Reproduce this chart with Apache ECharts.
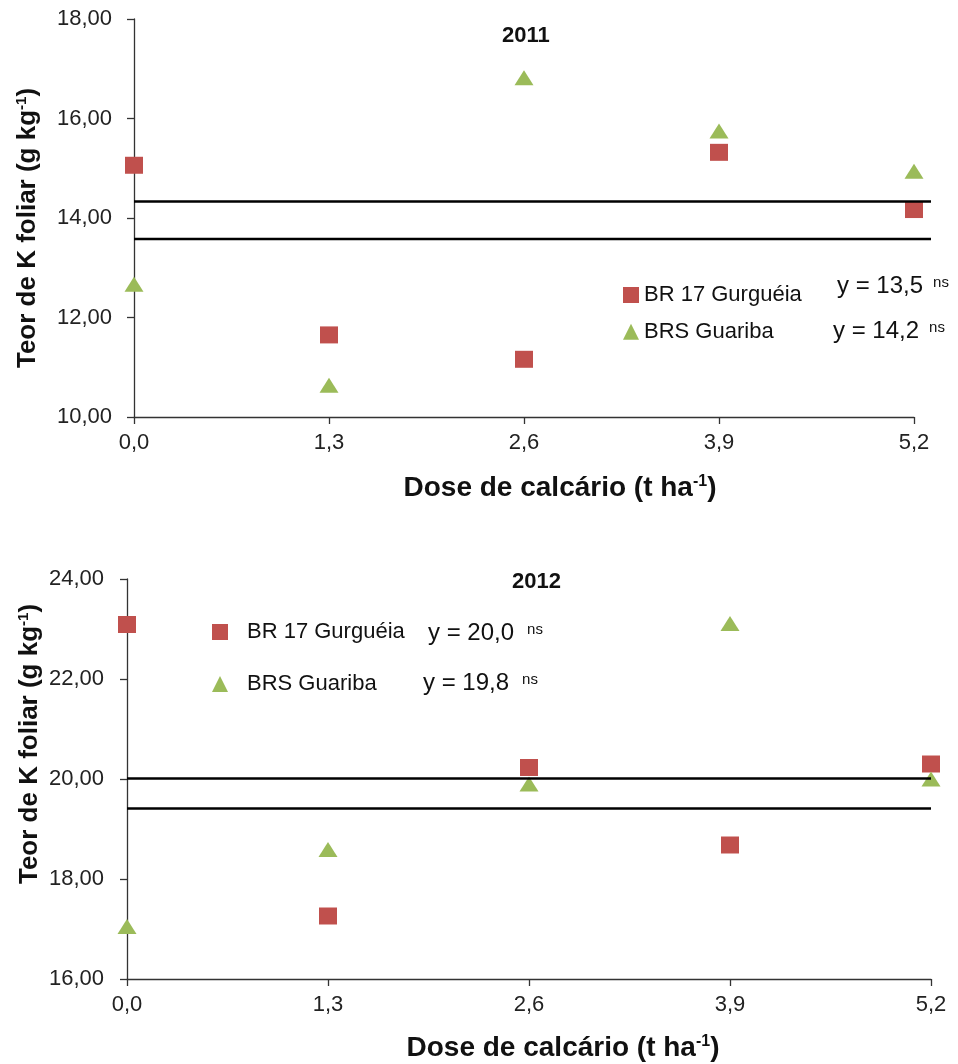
<!DOCTYPE html>
<html>
<head>
<meta charset="utf-8">
<script src="https://cdn.jsdelivr.net/npm/echarts@6/dist/echarts.min.js"></script>
<style>
html,body{margin:0;padding:0;background:#fff;}
#chart{width:958px;height:1064px;}
</style>
</head>
<body>
<div id="chart"></div>
<script>
// ---- data ----
const doses = [0, 1.3, 2.6, 3.9, 5.2];
const seriesNames = ['BR 17 Gurguéia', 'BRS Guariba'];
const gurgueia2011 = [15.06, 11.65, 11.16, 15.32, 14.17];
const guariba2011 = [12.67, 10.64, 16.82, 15.75, 14.94];
const gurgueia2012 = [23.09, 17.26, 20.23, 18.68, 20.30];
const guariba2012 = [17.05, 18.59, 19.90, 23.11, 20.00];
const meanLines2011 = [14.33, 13.58];
const meanLines2012 = [20.01, 19.41];
const lineEnd2011 = 5.31;
const lineEnd2012 = 5.2;
const eq2011 = ['y = 13,5', 'y = 14,2'];
const eq2012 = ['y = 20,0', 'y = 19,8'];
const years = ['2011', '2012'];
const yRange2011 = [10, 18];
const yRange2012 = [16, 24];

const FONT = '"Liberation Sans", Arial, sans-serif';
const RED = '#C0504D';
const GREEN = '#9BBB59';

const pts = (xs, ys) => xs.map((x, i) => [x, ys[i]]);
const fmtY = v => v.toFixed(2).replace('.', ',');
const fmtX = v => v.toFixed(1).replace('.', ',');

function xAxis(gridIndex, nameGap, padLeft) {
  return {
    type: 'value', gridIndex, min: 0, max: 5.2, interval: 1.3,
    splitLine: {show: false},
    axisLine: {lineStyle: {color: '#333', width: 1.3}},
    axisTick: {length: 7, lineStyle: {color: '#333', width: 1.3}},
    axisLabel: {formatter: fmtX, fontSize: 22, color: '#222', fontFamily: FONT, margin: 15},
    name: '{b|Dose de calcário (t ha}{s|-1}{b|)}',
    nameLocation: 'middle', nameGap, nameMoveOverlap: false,
    nameTextStyle: {
      padding: [0, 0, 0, padLeft],
      rich: {
        b: {fontSize: 28, fontWeight: 'bold', color: '#111', fontFamily: FONT},
        s: {fontSize: 16, fontWeight: 'bold', color: '#111', fontFamily: FONT, padding: [0, 0, 12, 0]}
      }
    }
  };
}
function hiddenAxis(type, gridIndex, min, max) {
  return {type, gridIndex, min, max, show: false, splitLine: {show: false}};
}
function yAxis(gridIndex, range, margin, nameGap, pad) {
  return {
    type: 'value', gridIndex, min: range[0], max: range[1], interval: 2,
    splitLine: {show: false},
    axisLine: {show: true, lineStyle: {color: '#333', width: 1.3}},
    axisTick: {show: true, length: 7, lineStyle: {color: '#333', width: 1.3}},
    axisLabel: {formatter: fmtY, fontSize: 22, color: '#222', fontFamily: FONT, margin},
    name: '{b|Teor de K foliar (g kg}{s|-1}{b|)}',
    nameLocation: 'middle', nameRotate: 90, nameGap, nameMoveOverlap: false,
    nameTextStyle: {
      padding: pad,
      rich: {
        b: {fontSize: 26, fontWeight: 'bold', color: '#111', fontFamily: FONT},
        s: {fontSize: 15, fontWeight: 'bold', color: '#111', fontFamily: FONT, padding: [0, 0, 12, 0]}
      }
    }
  };
}
function scatter(name, data, xi, symbol, size, color) {
  return {
    type: 'scatter', name, xAxisIndex: xi, yAxisIndex: xi, data,
    symbol, symbolSize: size, itemStyle: {color, opacity: 1}, z: 2, silent: true
  };
}
function hline(value, end, xi) {
  return {
    type: 'line', xAxisIndex: xi, yAxisIndex: xi,
    data: [[0, value], [end, value]], showSymbol: false, clip: false,
    lineStyle: {color: '#000', width: 2.5}, z: 3, silent: true
  };
}
function eqText(x, y, txt, gap) {
  return {
    type: 'text', left: x, top: y,
    style: {
      text: '{m|' + txt + '}{s|ns}',
      rich: {
        m: {fontSize: 24, fill: '#111', fontFamily: FONT},
        s: {fontSize: 15, fill: '#111', fontFamily: FONT, padding: [0, 0, 7, gap]}
      }
    }
  };
}

const legendText = {fontSize: 22, color: '#111', fontFamily: FONT, lineHeight: 24};

const option = {
  backgroundColor: '#fff',
  animation: false,
  title: [
    {text: years[0], left: 502, top: 25, padding: 0,
     textStyle: {fontSize: 22, fontWeight: 'bold', color: '#111', fontFamily: FONT}},
    {text: years[1], left: 512, top: 571, padding: 0,
     textStyle: {fontSize: 22, fontWeight: 'bold', color: '#111', fontFamily: FONT}}
  ],
  grid: [
    {left: 134, top: 19, width: 780, height: 398},
    {left: 127, top: 579, width: 804, height: 400},
    {left: 134, top: 19, width: 797, height: 398}
  ],
  xAxis: [xAxis(0, 57, 72), xAxis(1, 55, 68), hiddenAxis('value', 2, 0, lineEnd2011)],
  yAxis: [yAxis(0, yRange2011, 22, 93, [0, 20, 0, 0]), yAxis(1, yRange2012, 23, 84, [0, 0, 0, 70]),
          hiddenAxis('value', 2, yRange2011[0], yRange2011[1])],
  legend: [
    {orient: 'vertical', left: 623, top: 283, itemGap: 12.7, itemWidth: 16, itemHeight: 16,
     padding: 0, selectedMode: false, textStyle: legendText,
     data: [{name: seriesNames[0], icon: 'rect'}, {name: seriesNames[1], icon: 'triangle'}]},
    {orient: 'vertical', left: 212, top: 620, itemGap: 28, itemWidth: 16, itemHeight: 16,
     padding: 0, selectedMode: false, textStyle: Object.assign({}, legendText, {padding: [0, 0, 0, 14]}),
     data: [{name: seriesNames[0], icon: 'rect'}, {name: seriesNames[1], icon: 'triangle'}]}
  ],
  graphic: [
    eqText(837, 274, eq2011[0], 10),
    eqText(833, 319, eq2011[1], 10),
    eqText(428, 621, eq2012[0], 13),
    eqText(423, 671, eq2012[1], 13)
  ],
  series: [
    scatter(seriesNames[0], pts(doses, gurgueia2011), 0, 'rect', [18, 17], RED),
    scatter(seriesNames[1], pts(doses, guariba2011), 0, 'triangle', [19, 15], GREEN),
    hline(meanLines2011[0], lineEnd2011, 2),
    hline(meanLines2011[1], lineEnd2011, 2),
    scatter(seriesNames[0], pts(doses, gurgueia2012), 1, 'rect', [18, 17], RED),
    scatter(seriesNames[1], pts(doses, guariba2012), 1, 'triangle', [19, 15], GREEN),
    hline(meanLines2012[0], lineEnd2012, 1),
    hline(meanLines2012[1], lineEnd2012, 1)
  ]
};

const chart = echarts.init(document.getElementById('chart'), null, {renderer: 'canvas'});
chart.setOption(option);
</script>
</body>
</html>
